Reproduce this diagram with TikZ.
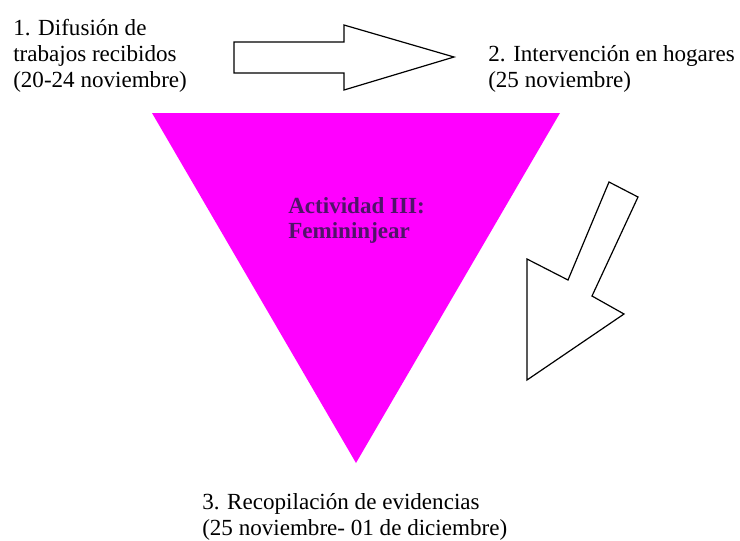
\documentclass[tikz,border=0pt]{standalone}
\usepackage{fontspec}
\setmainfont{Liberation Serif}
\usetikzlibrary{positioning}

\definecolor{fucsia}{RGB}{255,0,255}
\definecolor{moradotit}{RGB}{80,20,105}

\tikzstyle{etapa} = [align=left, inner sep=0pt, anchor=base west, font=\fontsize{17.3}{19.5}\selectfont]
\tikzstyle{titulo} = [etapa, font=\bfseries\fontsize{17.3}{18.75}\selectfont, text=moradotit]
\tikzstyle{flecha} = [draw=black, fill=white, line width=0.9pt, line join=miter]

\begin{document}
\begin{tikzpicture}[x=0.75pt,y=-0.75pt]
    \useasboundingbox[fill=white] (0,0) rectangle (740,540);
    % triangulo central
    \fill[fucsia] (152,113) -- (560,113) -- (356,463) -- cycle;
    \node[titulo] (A) at (288,238) {Actividad III:\\Femininjear};
    % etapas (anclas en la linea base de la ultima linea)
    \node[etapa] (E1) at (13,87) {1. Difusión de\\trabajos recibidos\\(20-24 noviembre)};
    \node[etapa] (E2) at (488,87) {2. Intervención en hogares\\(25 noviembre)};
    \node[etapa] (E3) at (202,535) {3. Recopilación de evidencias\\(25 noviembre- 01 de diciembre)};
    % flechas
    \draw[flecha] (234,42) -- (344,42) -- (344,25) -- (454,57) -- (344,90) -- (344,73) -- (234,73) -- cycle;
    \draw[flecha] (609,182) -- (638,197) -- (592,296) -- (624,314) -- (527,380) -- (527,259) -- (568,280) -- cycle;
\end{tikzpicture}
\end{document}
